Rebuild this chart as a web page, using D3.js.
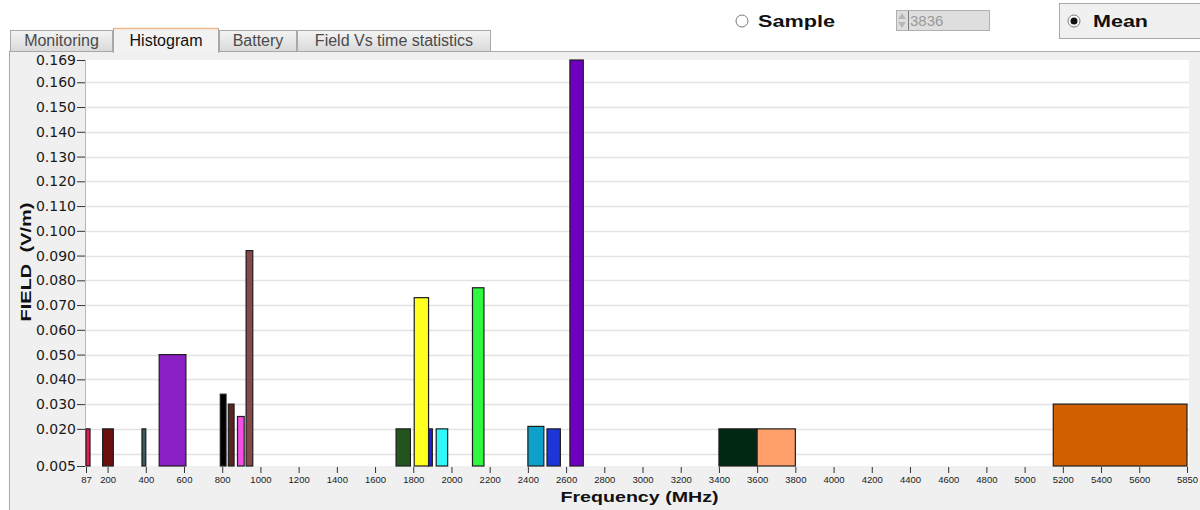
<!DOCTYPE html>
<html>
<head>
<meta charset="utf-8">
<script src="https://cdn.jsdelivr.net/npm/d3@7"></script>
<style>
  body { margin: 0; background: #ffffff; }
  svg { display: block; }
</style>
</head>
<body>
<div id="chart"></div>
<script>
(function () {
  'use strict';

  // Frequency bands (MHz) and mean field per band (V/m)
  var bandStart = [87, 174, 380, 470, 790, 832, 880, 925, 1710, 1880, 1805, 1920, 2110, 2400, 2500, 2620, 3400, 3600, 5150];
  var bandEnd   = [108, 230, 400, 610, 820, 862, 915, 960, 1785, 1900, 1880, 1980, 2170, 2483.5, 2570, 2690, 3600, 3800, 5850];
  var fieldValues = [0.020, 0.020, 0.020, 0.050, 0.034, 0.030, 0.025, 0.092, 0.020, 0.020, 0.073, 0.020, 0.077, 0.021, 0.020, 0.169, 0.020, 0.020, 0.030];
  var bandColors = ['#e8174f', '#6b0f0f', '#3a5a60', '#8a1fc4', '#000000', '#5a2424', '#f24fe6', '#884848', '#245520',
                    '#2020d8', '#ffff20', '#30f8f8', '#30f840', '#0ea0c8', '#1e36d8', '#7000c0', '#012812', '#ffa06b', '#d25f00'];

  var xTicks = [87, 200, 400, 600, 800, 1000, 1200, 1400, 1600, 1800, 2000, 2200, 2400, 2600, 2800, 3000, 3200, 3400,
                3600, 3800, 4000, 4200, 4400, 4600, 4800, 5000, 5200, 5400, 5600, 5850];
  var yTicks = [0.005, 0.020, 0.030, 0.040, 0.050, 0.060, 0.070, 0.080, 0.090, 0.100, 0.110, 0.120, 0.130, 0.140, 0.150, 0.160, 0.169];
  var gridValues = [0.010, 0.020, 0.030, 0.040, 0.050, 0.060, 0.070, 0.080, 0.090, 0.100, 0.110, 0.120, 0.130, 0.140, 0.150, 0.160];

  var tabLabels = ['Monitoring', 'Histogram', 'Battery', 'Field Vs time statistics'];
  var tabEdges = [10, 113, 219, 297, 491];
  var selectedTab = 1;
  var sampleValue = '3836';

  var width = 1200, height = 510;
  var plot = { left: 86, right: 1187, top: 60, bottom: 466 };

  var svg = d3.select('#chart').append('svg').attr('width', width).attr('height', height);
  var defs = svg.append('defs');
  var grad = defs.append('linearGradient').attr('id', 'tabGrad').attr('x1', 0).attr('y1', 0).attr('x2', 0).attr('y2', 1);
  grad.append('stop').attr('offset', '0%').attr('stop-color', '#f4f4f4');
  grad.append('stop').attr('offset', '100%').attr('stop-color', '#d9d9d9');

  // Panel
  svg.append('rect').attr('x', 9.5).attr('y', 51.5).attr('width', 1200).attr('height', 470)
    .attr('fill', '#f0f0f0').attr('stroke', '#aaaaaa');

  // Tabs
  tabLabels.forEach(function (label, i) {
    var x0 = tabEdges[i], x1 = tabEdges[i + 1];
    var sel = i === selectedTab;
    var top = sel ? 28 : 30;
    svg.append('rect').attr('x', x0 + 0.5).attr('y', top + 0.5).attr('width', x1 - x0 - 1).attr('height', (sel ? 52 : 51) - top)
      .attr('fill', sel ? '#f2f2f2' : 'url(#tabGrad)').attr('stroke', '#a8a8a8');
    if (sel) {
      svg.append('line').attr('x1', x0 + 1).attr('x2', x1 - 1).attr('y1', top + 0.5).attr('y2', top + 0.5)
        .attr('stroke', '#f3b98a').attr('stroke-width', 1.5);
      svg.append('rect').attr('x', x0 + 1).attr('y', 50).attr('width', x1 - x0 - 2).attr('height', 3).attr('fill', '#f2f2f2');
    }
    svg.append('text').attr('x', (x0 + x1) / 2).attr('y', 46).attr('text-anchor', 'middle')
      .attr('font-family', 'Liberation Sans, Arial, sans-serif').attr('font-size', 16)
      .attr('fill', sel ? '#111111' : '#4a4a4a').text(label);
  });

  // Sample radio + spinner
  svg.append('circle').attr('cx', 742).attr('cy', 21).attr('r', 6).attr('fill', '#ffffff').attr('stroke', '#7a7a7a');
  svg.append('text').attr('x', 758).attr('y', 27).attr('font-family', 'Liberation Sans, Arial, sans-serif')
    .attr('font-weight', 'bold').attr('font-size', 16).attr('textLength', 77).attr('lengthAdjust', 'spacingAndGlyphs')
    .attr('fill', '#111111').text('Sample');
  svg.append('rect').attr('x', 896.5).attr('y', 10.5).attr('width', 93).attr('height', 20).attr('fill', '#dedede').attr('stroke', '#b0b0b0');
  svg.append('line').attr('x1', 908.5).attr('x2', 908.5).attr('y1', 11).attr('y2', 30).attr('stroke', '#7a7a7a');
  svg.append('path').attr('d', 'M898,19 L902,13 L906,19 Z').attr('fill', '#b8b8b8');
  svg.append('path').attr('d', 'M898,22 L906,22 L902,28 Z').attr('fill', '#b8b8b8');
  svg.append('text').attr('x', 910).attr('y', 26).attr('font-family', 'Liberation Sans, Arial, sans-serif')
    .attr('font-size', 15).attr('fill', '#9a9a9a').text(sampleValue);

  // Mean radio (selected)
  svg.append('rect').attr('x', 1059.5).attr('y', 3.5).attr('width', 150).attr('height', 35).attr('fill', '#f0f0f0').attr('stroke', '#a8a8a8');
  svg.append('circle').attr('cx', 1074).attr('cy', 21).attr('r', 6).attr('fill', '#ffffff').attr('stroke', '#7a7a7a');
  svg.append('circle').attr('cx', 1074).attr('cy', 21).attr('r', 3.5).attr('fill', '#111111');
  svg.append('text').attr('x', 1093).attr('y', 27).attr('font-family', 'Liberation Sans, Arial, sans-serif')
    .attr('font-weight', 'bold').attr('font-size', 16).attr('textLength', 55).attr('lengthAdjust', 'spacingAndGlyphs')
    .attr('fill', '#111111').text('Mean');

  // Scales
  var x = d3.scaleLinear().domain([87, 5850]).range([plot.left, plot.right]);
  var y = d3.scaleLinear().domain([0.005, 0.169]).range([plot.bottom, plot.top]);

  // Plot area + grid
  svg.append('rect').attr('x', plot.left).attr('y', plot.top).attr('width', plot.right - plot.left + 2)
    .attr('height', plot.bottom - plot.top).attr('fill', '#ffffff');
  svg.append('g').selectAll('line').data(gridValues).join('line')
    .attr('x1', plot.left).attr('x2', plot.right + 2)
    .attr('y1', function (d) { return Math.round(y(d)) + 0.5; }).attr('y2', function (d) { return Math.round(y(d)) + 0.5; })
    .attr('stroke', '#e3e3e3').attr('stroke-width', 1.5);
  svg.append('line').attr('x1', plot.left - 0.5).attr('x2', plot.left - 0.5).attr('y1', plot.top).attr('y2', plot.bottom)
    .attr('stroke', '#b8b8b8');

  // Bars
  var bars = bandStart.map(function (s, i) { return { start: s, end: bandEnd[i], value: fieldValues[i], color: bandColors[i] }; });
  svg.append('g').selectAll('rect').data(bars).join('rect')
    .attr('x', function (d) { return x(d.start); })
    .attr('y', function (d) { return y(d.value); })
    .attr('width', function (d) { return x(d.end) - x(d.start); })
    .attr('height', function (d) { return y(0.005) - y(d.value); })
    .attr('fill', function (d) { return d.color; })
    .attr('stroke', '#1e1e1e').attr('stroke-width', 1.2);

  // Axes
  var yAxis = svg.append('g').attr('transform', 'translate(' + (plot.left - 1) + ',0)')
    .call(d3.axisLeft(y).tickValues(yTicks).tickFormat(d3.format('.3f')).tickSize(8).tickPadding(1));
  yAxis.select('.domain').remove();
  yAxis.selectAll('.tick line').attr('stroke', '#333333');
  yAxis.selectAll('text').attr('font-family', 'DejaVu Sans, Verdana, sans-serif').attr('font-size', 14).attr('fill', '#1a1a1a');

  var xAxis = svg.append('g').attr('transform', 'translate(0,' + (plot.bottom + 1) + ')')
    .call(d3.axisBottom(x).tickValues(xTicks).tickFormat(d3.format('d')).tickSize(6).tickPadding(3));
  xAxis.select('.domain').remove();
  xAxis.selectAll('.tick line').attr('stroke', '#333333');
  xAxis.selectAll('text').attr('font-family', 'Liberation Sans, Arial, sans-serif').attr('font-size', 9.5).attr('fill', '#1a1a1a');

  // Axis titles
  svg.append('text').attr('x', (plot.left + plot.right) / 2 + 3).attr('y', 502).attr('text-anchor', 'middle')
    .attr('font-family', 'Liberation Sans, Arial, sans-serif').attr('font-weight', 'bold').attr('font-size', 15)
    .attr('textLength', 158).attr('lengthAdjust', 'spacingAndGlyphs').attr('fill', '#111111').text('Frequency (MHz)');
  svg.append('text').attr('transform', 'translate(31,262) rotate(-90)').attr('text-anchor', 'middle')
    .attr('font-family', 'Liberation Sans, Arial, sans-serif').attr('font-weight', 'bold').attr('font-size', 15)
    .attr('textLength', 119).attr('lengthAdjust', 'spacingAndGlyphs').attr('fill', '#111111')
    .style('white-space', 'pre').text('FIELD  (V/m)');
})();
</script>
</body>
</html>
